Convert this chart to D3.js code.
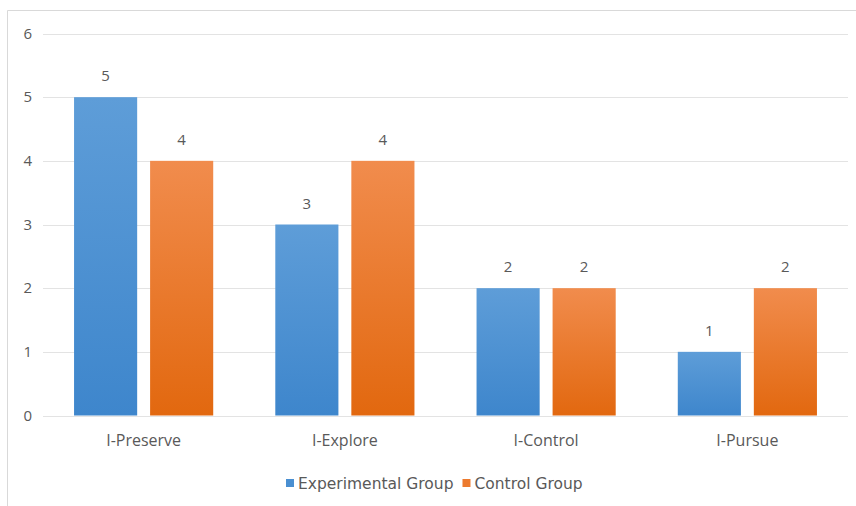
<!DOCTYPE html>
<html>
<head>
<meta charset="utf-8">
<script src="https://cdn.jsdelivr.net/npm/d3@7/dist/d3.min.js"></script>
<style>
  html, body { margin: 0; padding: 0; background: #fff; }
  svg { display: block; }
  text { font-family: "Open Sans", "DejaVu Sans", sans-serif; fill: #595959; }
  .legend text { font-family: "DejaVu Sans", sans-serif; }
</style>
</head>
<body>
<svg id="chart" width="856" height="506"></svg>
<script>
// Chart data
const categories = ["I-Preserve", "I-Explore", "I-Control", "I-Pursue"];
const seriesNames = ["Experimental Group", "Control Group"];
const experimental = [5, 3, 2, 1];
const control = [4, 4, 2, 2];
const yTicks = [0, 1, 2, 3, 4, 5, 6];

const svg = d3.select("#chart");
const W = 856, H = 506;

// Outer chart frame (only top and left edges fall inside the canvas)
svg.append("path")
  .attr("d", `M7.5,${H} L7.5,10.5 L${W},10.5`)
  .attr("fill", "none")
  .attr("stroke", "#d9d9d9")
  .attr("stroke-width", 1);

const plot = { left: 43, right: 848, top: 33.5, bottom: 415.5 };

const x0 = d3.scaleBand()
  .domain(categories)
  .range([plot.left, plot.right])
  .paddingInner(0.3085)
  .paddingOuter(0.1543);

const x1 = d3.scaleBand()
  .domain(seriesNames)
  .range([0, x0.bandwidth()])
  .paddingInner(0.17);

const y = d3.scaleLinear().domain([0, 6]).range([plot.bottom, plot.top]);

// Gradients
const defs = svg.append("defs");
function grad(id, top, bottom) {
  const g = defs.append("linearGradient").attr("id", id)
    .attr("x1", 0).attr("y1", 0).attr("x2", 0).attr("y2", 1);
  g.append("stop").attr("offset", "0%").attr("stop-color", top);
  g.append("stop").attr("offset", "100%").attr("stop-color", bottom);
}
grad("gBlue", "#5E9DD8", "#3E86CC");
grad("gOrange", "#F18C4D", "#E2680F");
const fills = { "Experimental Group": "url(#gBlue)", "Control Group": "url(#gOrange)" };
const legendColors = { "Experimental Group": "#4A8FD1", "Control Group": "#EC7A2E" };

// Gridlines
svg.append("g")
  .selectAll("line")
  .data(yTicks)
  .join("line")
  .attr("x1", plot.left).attr("x2", plot.right)
  .attr("y1", d => Math.round(y(d)) + 0.5)
  .attr("y2", d => Math.round(y(d)) + 0.5)
  .attr("stroke", "#e3e3e3")
  .attr("stroke-width", 1);

// Y axis labels
const yAxis = d3.axisLeft(y).tickValues(yTicks).tickSize(0).tickPadding(0).tickFormat(d3.format("d"));
const yg = svg.append("g").attr("transform", `translate(32,0)`).call(yAxis);
yg.select(".domain").remove();
yg.selectAll("text").attr("font-size", 15).style("fill", "#595959");

// X axis labels
const xAxis = d3.axisBottom(x0).tickSize(0).tickPadding(0);
const xg = svg.append("g").attr("transform", `translate(0,${plot.bottom + 19})`).call(xAxis);
xg.select(".domain").remove();
xg.selectAll("text").attr("font-size", 16).style("fill", "#595959");

// Bars
const rows = categories.map((c, i) => ({
  category: c,
  values: [
    { series: seriesNames[0], value: experimental[i] },
    { series: seriesNames[1], value: control[i] }
  ]
}));

const groups = svg.append("g")
  .selectAll("g")
  .data(rows)
  .join("g")
  .attr("transform", d => `translate(${x0(d.category)},0)`);

groups.selectAll("rect")
  .data(d => d.values)
  .join("rect")
  .attr("x", d => x1(d.series))
  .attr("y", d => y(d.value))
  .attr("width", x1.bandwidth())
  .attr("height", d => y(0) - y(d.value))
  .attr("fill", d => fills[d.series]);

// Value labels
groups.selectAll("text.val")
  .data(d => d.values)
  .join("text")
  .attr("class", "val")
  .attr("x", d => x1(d.series) + x1.bandwidth() / 2)
  .attr("y", d => y(d.value) - 16)
  .attr("text-anchor", "middle")
  .attr("font-size", 15)
  .text(d => d.value);

// Legend: swatch + label, laid out left to right
const legend = svg.append("g").attr("class", "legend").attr("transform", "translate(286,483)");
let cursor = 0;
seriesNames.forEach(name => {
  const item = legend.append("g").attr("transform", `translate(${cursor},0)`);
  item.append("rect")
    .attr("x", 0).attr("y", -4).attr("width", 8).attr("height", 8)
    .attr("fill", legendColors[name]);
  const t = item.append("text")
    .attr("x", 12).attr("y", 0).attr("dy", "0.36em")
    .attr("font-size", 15.5)
    .text(name);
  cursor += 12 + t.node().getComputedTextLength() + 9;
});
</script>
</body>
</html>
